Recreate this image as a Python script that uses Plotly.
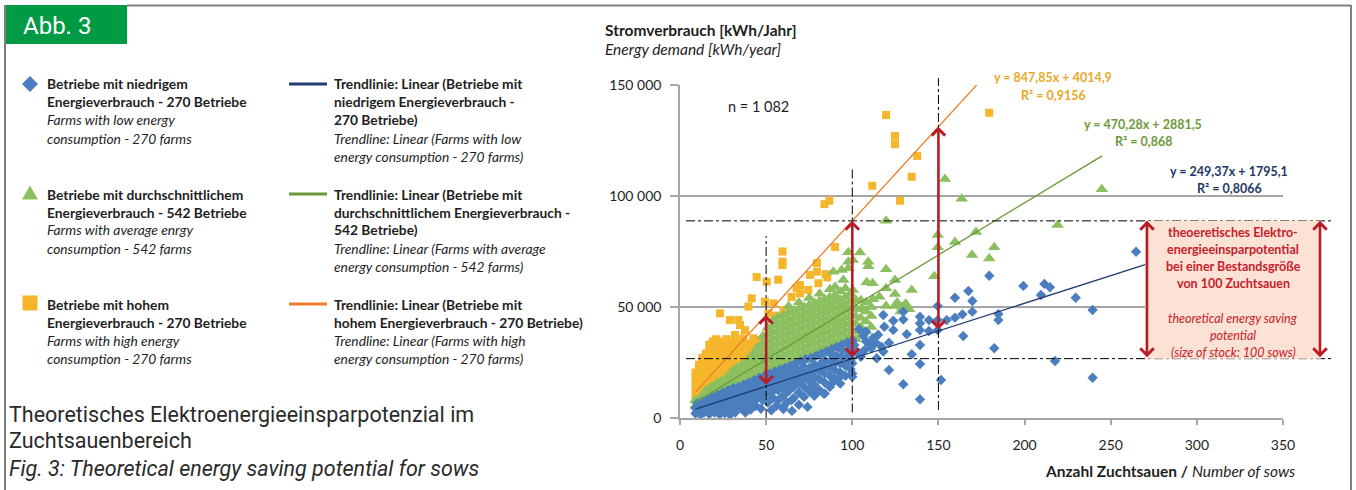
import plotly.graph_objects as go

# ---------------- data ----------------
# (number of sows, energy demand kWh/year)
LOW_FARMS = [
    (9, 2000), (9, 4500), (10, 3200), (10, 6500), (12, 1500), (12, 3500), (12, 5500), (13, 7500),
    (14, 2600), (15, 4500), (15, 6500), (16, 8500), (17, 1800), (18, 3500), (18, 5500), (18, 7500),
    (19, 9500), (20, 2500), (21, 5000), (21, 7000), (21, 8800), (22, 10500), (23, 1600), (24, 3000),
    (24, 5500), (24, 7800), (24, 9800), (25, 11500), (26, 2200), (27, 4500), (27, 6500), (27, 8800),
    (27, 10800), (28, 12500), (29, 1500), (30, 3500), (30, 6000), (30, 8000), (30, 10000), (30, 12000),
    (31, 13500), (32, 2500), (33, 5000), (33, 7500), (33, 9500), (33, 11500), (34, 14000), (36, 4000),
    (36, 6500), (36, 8500), (36, 10500), (36, 12500), (37, 15000), (38, 2500), (39, 6000), (39, 9000),
    (39, 11500), (39, 13500), (40, 16000), (41, 3800), (42, 8000), (42, 10500), (42, 12500), (42, 14500),
    (43, 17000), (44, 5500), (45, 9000), (45, 11500), (45, 13500), (45, 15500), (46, 18000), (47, 4200),
    (48, 8000), (48, 10500), (48, 12500), (48, 14500), (48, 16500), (49, 19000), (51, 7000), (51, 11000),
    (51, 13500), (51, 15500), (51, 17500), (52, 20000), (53, 3500), (54, 9000), (54, 12000), (54, 14500),
    (54, 16500), (54, 18500), (55, 21000), (56, 5500), (57, 8000), (57, 12500), (57, 15500), (57, 17500),
    (57, 19500), (58, 21800), (60, 4000), (60, 10000), (60, 13500), (60, 16000), (60, 18500), (60, 20500),
    (61, 22500), (62, 7000), (63, 12000), (63, 15500), (63, 18000), (63, 20500), (64, 23500), (65, 3200),
    (66, 9000), (66, 14000), (66, 17000), (66, 19500), (66, 22000), (67, 24500), (69, 6000), (69, 11500),
    (69, 16000), (69, 19000), (69, 21500), (70, 25500), (72, 9500), (72, 14000), (72, 18000), (72, 20500),
    (72, 23000), (73, 26500), (74, 5000), (75, 12000), (75, 16500), (75, 19500), (75, 22500), (76, 27000),
    (78, 10000), (78, 15000), (78, 18500), (78, 21500), (78, 24000), (79, 28000), (81, 12500), (81, 17500),
    (81, 21000), (81, 24000), (82, 29000), (84, 11000), (84, 16000), (84, 20000), (84, 23000), (84, 26000),
    (85, 30000), (87, 14000), (87, 19000), (87, 22500), (87, 25500), (88, 28500), (88, 31000), (90, 17500),
    (90, 21500), (90, 25000), (91, 28000), (91, 32000), (93, 15500), (93, 20500), (93, 24500), (94, 27500),
    (94, 30500), (94, 33000), (96, 19000), (96, 23500), (97, 27000), (97, 30000), (97, 34000), (99, 22000),
    (99, 26000), (100, 29000), (100, 32000), (100, 35000),
    (264.7, 74900), (179.5, 64100), (199.3, 59500), (211.5, 60400), (214.7, 58900), (209.5, 55400),
    (229.7, 54200), (239.5, 48650), (217.7, 25700), (239.5, 18150), (182.4, 31400), (184.8, 46800),
    (184.8, 44100), (167.4, 57200), (169.7, 52700), (169.7, 47900), (164.4, 36900), (159.6, 54200),
    (163.9, 46700), (159.6, 45200), (154.8, 44100), (149.6, 50450), (149.6, 44100), (149.6, 39600),
    (151.5, 17100), (144.5, 44100), (144.5, 39200), (139.3, 45600), (139.3, 42650), (139.3, 39600),
    (139.3, 32900), (139.3, 24300), (139.3, 8400), (134.5, 28700), (129.6, 47900), (129.6, 44400),
    (131.6, 37700), (129.6, 15200), (123.8, 43800), (123.8, 39600), (121.3, 33900), (121.3, 21600),
    (118.6, 41100), (117, 32100), (118, 29900), (114.2, 26900), (118, 46400), (108, 34500), (110, 33000),
    (112, 36000), (113.5, 34000), (106.4, 36900), (108, 38900), (105, 27600), (101.2, 32900), (100, 24600),
    (100, 20100), (100, 18600), (103, 29500), (107, 30500), (111, 31500), (115, 37500), (104, 40000),
    (60, 5100), (64.8, 8100), (79.3, 11850), (83.2, 11100), (76.4, 14100), (89, 16350), (92.9, 18600),
]

AVG_FARMS = [
    (9, 5500), (9, 8000), (12, 7000), (12, 9500), (15, 8000), (15, 10500), (15, 12500),
    (18, 9000), (18, 11500), (18, 14000), (21, 10000), (21, 12800), (21, 15500),
    (24, 11000), (24, 13800), (24, 16800), (27, 12000), (27, 15000), (27, 18000),
    (30, 13000), (30, 16000), (30, 19000), (30, 21000), (33, 14000), (33, 17000), (33, 20000), (33, 22500),
    (36, 15000), (36, 18000), (36, 21000), (36, 24000), (39, 16000), (39, 19000), (39, 22000), (39, 25000),
    (42, 17000), (42, 20000), (42, 23000), (42, 26000), (42, 28500),
    (45, 17800), (45, 20800), (45, 23800), (45, 26800), (45, 29800), (45, 32000),
    (48, 18800), (48, 21800), (48, 24800), (48, 27800), (48, 30800), (48, 33800), (48, 36800),
    (51, 19700), (51, 22700), (51, 25700), (51, 28700), (51, 31700), (51, 34700), (51, 37700), (51, 40700),
    (54, 20600), (54, 23600), (54, 26600), (54, 29600), (54, 32600), (54, 35600), (54, 38600), (54, 41600),
    (54, 44000),
    (57, 21500), (57, 24500), (57, 27500), (57, 30500), (57, 33500), (57, 36500), (57, 39500), (57, 42500),
    (57, 45500),
    (60, 22400), (60, 25400), (60, 28400), (60, 31400), (60, 34400), (60, 37400), (60, 40400), (60, 43400),
    (60, 46400),
    (63, 23300), (63, 26300), (63, 29300), (63, 32300), (63, 35300), (63, 38300), (63, 41300), (63, 44300),
    (63, 47300), (63, 50300),
    (66, 24200), (66, 27200), (66, 30200), (66, 33200), (66, 36200), (66, 39200), (66, 42200), (66, 45200),
    (66, 48200),
    (69, 25100), (69, 28100), (69, 31100), (69, 34100), (69, 37100), (69, 40100), (69, 43100), (69, 46100),
    (69, 49100), (69, 52000),
    (72, 26000), (72, 29000), (72, 32000), (72, 35000), (72, 38000), (72, 41000), (72, 44000), (72, 47000),
    (72, 50000),
    (75, 26900), (75, 29900), (75, 32900), (75, 35900), (75, 38900), (75, 41900), (75, 44900), (75, 47900),
    (75, 50900), (75, 54000),
    (78, 27800), (78, 30800), (78, 33800), (78, 36800), (78, 39800), (78, 42800), (78, 45800), (78, 48800),
    (78, 51800),
    (81, 28700), (81, 31700), (81, 34700), (81, 37700), (81, 40700), (81, 43700), (81, 46700), (81, 49700),
    (81, 52700), (81, 56000),
    (84, 29600), (84, 32600), (84, 35600), (84, 38600), (84, 41600), (84, 44600), (84, 47600), (84, 50600),
    (84, 53600),
    (87, 30500), (87, 33500), (87, 36500), (87, 39500), (87, 42500), (87, 45500), (87, 48500), (87, 51500),
    (87, 54500), (87, 58000),
    (90, 31400), (90, 34400), (90, 37400), (90, 40400), (90, 43400), (90, 46400), (90, 49400), (90, 52400),
    (90, 55400), (90, 59000),
    (93, 32300), (93, 35300), (93, 38300), (93, 41300), (93, 44300), (93, 47300), (93, 50300), (93, 53300),
    (93, 57000),
    (96, 33200), (96, 36200), (96, 39200), (96, 42200), (96, 45200), (96, 48200), (96, 51200), (96, 54500),
    (96, 58500),
    (99, 34100), (99, 37100), (99, 40100), (99, 43100), (99, 46100), (99, 49100), (99, 52500), (99, 56000),
    (102, 35500), (102, 39000), (102, 42500), (102, 46000), (102, 49500), (102, 53000),
    (105, 37000), (105, 41000), (105, 45000), (105, 49000), (105, 53000),
    (108, 39000), (108, 43500), (108, 48000), (108, 52000), (111, 41000), (111, 46000), (111, 50000),
    (153.8, 107700), (163.5, 98800), (119.6, 88800), (104.5, 74500), (149.6, 82400), (149.6, 76900),
    (159.6, 79300), (169.5, 73400), (171.8, 83800), (244.8, 103000), (219.2, 86900), (182.4, 76900),
    (179.5, 71900), (147.6, 63900), (134.5, 57650), (124.8, 62200), (119.6, 67000), (119.6, 58400),
    (119.6, 50500), (124.8, 55900), (124.8, 50500), (129, 50000), (131, 51500), (133, 49000),
    (109.3, 70400), (109.3, 68300), (108.4, 61200), (111.8, 60700), (100.3, 71200), (100.3, 57650),
    (97.7, 74700), (97.7, 70400), (97.7, 67400), (89, 65900), (93.8, 66700), (94.8, 62200),
    (115.7, 54600), (106, 49000), (108, 52000), (112, 53500), (102, 53000), (128, 48000), (126, 52000),
]

HIGH_FARMS = [
    (9, 9000), (9, 12000), (9, 15000), (9, 18000), (9, 20500), (11, 10000), (11, 13000), (11, 16000),
    (11, 19000), (11, 22000), (11, 24000), (13, 10500), (13, 13500), (13, 16500), (13, 19500), (13, 22500),
    (13, 25500), (13, 27000), (15, 11500), (15, 14500), (15, 17500), (15, 20500), (15, 23500), (15, 26500),
    (15, 29000), (17, 12500), (17, 15500), (17, 18500), (17, 21500), (17, 24500), (17, 27500), (17, 30500),
    (17, 33000), (19, 13500), (19, 16500), (19, 19500), (19, 22500), (19, 25500), (19, 28500), (19, 31500),
    (19, 34500), (21, 14500), (21, 17500), (21, 20500), (21, 23500), (21, 26500), (21, 29500), (21, 32500),
    (21, 35500), (23, 15500), (23, 18500), (23, 21500), (23, 24500), (23, 27500), (23, 30500), (23, 33500),
    (25, 16500), (25, 19500), (25, 22500), (25, 25500), (25, 28500), (25, 31500), (25, 34500), (27, 17500),
    (27, 20500), (27, 23500), (27, 26500), (27, 29500), (27, 32500), (27, 35500), (29, 18500), (29, 21500),
    (29, 24500), (29, 27500), (29, 30500), (29, 33500), (31, 19500), (31, 22500), (31, 25500), (31, 28500),
    (31, 31500), (31, 34000), (33, 21000), (33, 24000), (33, 27000), (33, 30000), (33, 33000), (35, 22500),
    (35, 25500), (35, 28500), (35, 31500), (35, 34000), (37, 23500), (37, 26500), (37, 29500), (37, 32500),
    (39, 25000), (39, 28000), (39, 31000), (39, 33500), (41, 26000), (41, 29000), (41, 32000), (43, 27500),
    (43, 30500), (43, 33000), (45, 29000), (45, 32000),
    (179.5, 137500), (119.6, 136500), (124.8, 127000), (124.8, 123300), (137.7, 118000), (134.5, 108700),
    (111.6, 104600), (86.7, 97900), (83.8, 96300), (127.7, 97900), (90, 77000), (59.5, 75000),
    (59.5, 70400), (59.5, 68900), (44.5, 63500), (57, 62300), (50.3, 61400), (79.5, 69800), (75.5, 64400),
    (79.5, 65900), (84.5, 64800), (85.5, 63300), (80.3, 60700), (74.5, 57700), (69.7, 59900), (69.7, 56200),
    (67.7, 58400), (64.8, 54500), (41.6, 53900), (39.7, 50200), (49.3, 52400), (51.3, 47150), (55.1, 46100),
    (54.2, 51650), (60, 48650), (23.2, 47150), (29, 44100), (33.9, 44100), (34.8, 41900), (37.7, 39600),
    (31.9, 37400), (36.7, 35900), (42.5, 35900), (45.4, 35100),
]

# linear trendlines (slope, intercept, R^2) as printed in the chart
TREND_LOW = {"slope": 249.37, "intercept": 1795.1, "r2": 0.8066, "x_from": 9, "x_to": 270}
TREND_AVG = {"slope": 470.28, "intercept": 2881.5, "r2": 0.868, "x_from": 9, "x_to": 245}
TREND_HIGH = {"slope": 847.85, "intercept": 4014.9, "r2": 0.9156, "x_from": 9, "x_to": 180}

HERD_SIZES = [50, 100, 150]      # herd sizes where the gap is marked
REFERENCE_HERD = 100             # herd size of the shaded saving box

X_TICKS = [0, 50, 100, 150, 200, 250, 300, 350]
Y_TICKS = [0, 50000, 100000, 150000]
Y_TICK_LABELS = ["0", "50 000", "100 000", "150 000"]
N_LABEL = "n = 1 082"

LEGEND_SERIES_TEXT = [
    ["<b>Betriebe mit niedrigem</b>", "<b>Energieverbrauch - 270 Betriebe</b>",
     "<i>Farms with low energy</i>", "<i>consumption - 270 farms</i>"],
    ["<b>Betriebe mit durchschnittlichem</b>", "<b>Energieverbrauch - 542 Betriebe</b>",
     "<i>Farms with average enrgy</i>", "<i>consumption - 542 farms</i>"],
    ["<b>Betriebe mit hohem</b>", "<b>Energieverbrauch - 270 Betriebe</b>",
     "<i>Farms with high energy</i>", "<i>consumption - 270 farms</i>"],
]
LEGEND_TREND_TEXT = [
    ["<b>Trendlinie: Linear (Betriebe mit</b>", "<b>niedrigem Energieverbrauch -</b>", "<b>270 Betriebe)</b>",
     "<i>Trendline: Linear (Farms with low</i>", "<i>energy consumption - 270 farms)</i>"],
    ["<b>Trendlinie: Linear (Betriebe mit</b>", "<b>durchschnittlichem Energieverbrauch -</b>", "<b>542 Betriebe)</b>",
     "<i>Trendline: Linear (Farms with average</i>", "<i>energy consumption - 542 farms)</i>"],
    ["<b>Trendlinie: Linear (Betriebe mit</b>", "<b>hohem Energieverbrauch - 270 Betriebe)</b>",
     "<i>Trendline: Linear (Farms with high</i>", "<i>energy consumption - 270 farms)</i>"],
]
BOX_TEXT = ["<b>theoeretisches Elektro-</b>", "<b>energieeinsparpotential</b>",
            "<b>bei einer Bestandsgröße</b>", "<b>von 100 Zuchtsauen</b>", "",
            "<i>theoretical energy saving</i>", "<i>potential</i>", "<i>(size of stock: 100 sows)</i>"]
CAPTION = ["Theoretisches Elektroenergieeinsparpotenzial im", "Zuchtsauenbereich",
           "<i>Fig. 3: Theoretical energy saving potential for sows</i>"]
BADGE = "Abb. 3"

# ---------------- style ----------------
W, H = 1356, 490
ML, MR, MT, MB = 680, 73, 85, 72
PW, PH = W - ML - MR, H - MT - MB
XMAX, YMAX = 350, 150000
FONT = "Lato, 'Open Sans', sans-serif"
CAP_FONT = "Roboto, 'Liberation Sans', sans-serif"
C_LOW, C_AVG, C_HIGH = "#4a7ebf", "#8cbf5f", "#f5b62c"
C_LOW_T, C_AVG_T, C_HIGH_T = "#1f3b70", "#6a9a3a", "#f07b28"
C_LOW_EQ, C_AVG_EQ, C_HIGH_EQ = "#1f3864", "#6c9a3a", "#eaa825"
C_RED, C_BOX, C_BOXTXT = "#b71c27", "#fce2d4", "#c8202b"
C_GRID = "#a6a6a6"
TXT = "#1e1e1e"
LEG_SIZE = 13.8


def fx(px):
    return (px - ML) / PW


def fy(py):
    return (H - MB - py) / PH


def trend_y(t, x):
    return t["slope"] * x + t["intercept"]


def de_num(v, nd):
    return f"{v:.{nd}f}".replace(".", ",")


fig = go.Figure()

for pts, sym, size, col in [(HIGH_FARMS, "square", 8, C_HIGH),
                            (AVG_FARMS, "triangle-up", 11, C_AVG),
                            (LOW_FARMS, "diamond", 8, C_LOW)]:
    fig.add_trace(go.Scatter(x=[p[0] for p in pts], y=[p[1] for p in pts], mode="markers",
                             marker=dict(symbol=sym, size=size, color=col, line=dict(width=0)),
                             hoverinfo="skip"))

for t, col in [(TREND_LOW, C_LOW_T), (TREND_AVG, C_AVG_T), (TREND_HIGH, C_HIGH_T)]:
    xs = [t["x_from"], t["x_to"]]
    fig.add_trace(go.Scatter(x=xs, y=[trend_y(t, v) for v in xs], mode="lines",
                             line=dict(color=col, width=1.3), hoverinfo="skip"))

shapes = []
annotations = []

# dash-dot guide lines
lo_ref = trend_y(TREND_LOW, REFERENCE_HERD)
hi_ref = trend_y(TREND_HIGH, REFERENCE_HERD)
dd = dict(color="black", width=1, dash="dashdot")
for yv in (lo_ref, hi_ref):
    shapes.append(dict(type="line", xref="paper", yref="y", x0=fx(686), x1=fx(1334), y0=yv, y1=yv, line=dd))
shapes.append(dict(type="line", xref="x", yref="y", x0=50, x1=50, y0=0, y1=82000, line=dd))
shapes.append(dict(type="line", xref="x", yref="y", x0=100, x1=100, y0=2500, y1=112000, line=dd))
shapes.append(dict(type="line", xref="x", yref="paper", x0=150, x1=150, y0=fy(410), y1=fy(78), line=dd))

# shaded saving box
shapes.append(dict(type="rect", xref="paper", yref="y", x0=fx(1145), x1=fx(1321), y0=lo_ref, y1=hi_ref,
                   fillcolor=C_BOX, line=dict(width=0), layer="above"))

arrow_style = dict(showarrow=True, text="", arrowcolor=C_RED, arrowwidth=2.6, arrowhead=4, startarrowhead=4,
                   arrowsize=1, startarrowsize=1, arrowside="end+start", standoff=0, startstandoff=0)
for hx in HERD_SIZES:
    annotations.append(dict(xref="x", yref="y", axref="x", ayref="y", x=hx, y=trend_y(TREND_HIGH, hx),
                            ax=hx, ay=trend_y(TREND_LOW, hx), **arrow_style))
for bx in (1147, 1320):
    annotations.append(dict(xref="paper", yref="y", axref="pixel", ayref="y", x=fx(bx), y=hi_ref,
                            ax=0, ay=lo_ref, **arrow_style))


def note(text, px, py, size=12.5, color=TXT, xanchor="left", family=FONT):
    annotations.append(dict(text=text, x=fx(px), y=fy(py), xref="paper", yref="paper", showarrow=False,
                            xanchor=xanchor, yanchor="middle", font=dict(family=family, size=size, color=color)))


# box text
for line, py in zip(BOX_TEXT, [232, 249, 266, 283, 300, 318, 335, 352]):
    if line:
        note(line, 1233, py, size=12.5, color=C_BOXTXT, xanchor="center")

# equations
for t, col, cx, py in [(TREND_HIGH, C_HIGH_EQ, 1053, 78), (TREND_AVG, C_AVG_EQ, 1143, 124),
                       (TREND_LOW, C_LOW_EQ, 1229, 171)]:
    note(f"<b>y = {de_num(t['slope'], 2)}x + {de_num(t['intercept'], 1)}</b>", cx, py, 12.5, col, "center")
    r2 = str(t["r2"]).replace(".", ",")
    note(f"<b>R² = {r2}</b>", cx, py + 17, 12.5, col, "center")

note(N_LABEL, 758, 107, 14.5, TXT, "center")

# axis titles
note("<b>Stromverbrauch [kWh/Jahr]</b>", 603, 30, 15.5, TXT)
note("<i>Energy demand [kWh/year]</i>", 603, 49, 15.5, TXT)
note("<b>Anzahl Zuchtsauen /</b> <i>Number of sows</i>", 1297, 471, 15.5, TXT, "right")

# legend
row_tops = [84, 194, 304]
trend_cols = [C_LOW_T, C_AVG_T, C_HIGH_T]
for r, top in enumerate(row_tops):
    for k, line in enumerate(LEGEND_SERIES_TEXT[r]):
        note(line, 45, top + 18 * k, LEG_SIZE, TXT)
    for k, line in enumerate(LEGEND_TREND_TEXT[r]):
        note(line, 332, top + 18 * k, LEG_SIZE, TXT)
    shapes.append(dict(type="line", xref="paper", yref="paper", x0=fx(289), x1=fx(327), y0=fy(top), y1=fy(top),
                       line=dict(color=trend_cols[r], width=3.2)))
cx, cy = 30, row_tops[0]
shapes.append(dict(type="path", xref="paper", yref="paper", fillcolor=C_LOW, line=dict(width=0),
                   path=f"M{fx(cx-8)},{fy(cy)} L{fx(cx)},{fy(cy-8)} L{fx(cx+8)},{fy(cy)} L{fx(cx)},{fy(cy+8)} Z"))
cy = row_tops[1] - 1
shapes.append(dict(type="path", xref="paper", yref="paper", fillcolor=C_AVG, line=dict(width=0),
                   path=f"M{fx(cx-8)},{fy(cy+6.5)} L{fx(cx)},{fy(cy-7.5)} L{fx(cx+8)},{fy(cy+6.5)} Z"))
cy = row_tops[2] - 1
shapes.append(dict(type="rect", xref="paper", yref="paper", fillcolor=C_HIGH, line=dict(width=0),
                   x0=fx(cx-7.5), x1=fx(cx+7.5), y0=fy(cy+7.5), y1=fy(cy-7.5)))

# caption
for line, py in zip(CAPTION, [414, 441, 468]):
    note(line, 7, py, 21.5, "#2a2a2a", family=CAP_FONT)

# badge and frame
shapes.append(dict(type="rect", xref="paper", yref="paper", x0=fx(5), x1=fx(127), y0=fy(44), y1=fy(5),
                   fillcolor="#009a44", line=dict(width=0)))
note(BADGE, 21, 26, 24, "white", family=CAP_FONT)
frame = dict(color="#808080", width=2)
shapes.append(dict(type="line", xref="paper", yref="paper", x0=fx(127), x1=fx(1351), y0=fy(5.5), y1=fy(5.5), line=frame))
shapes.append(dict(type="line", xref="paper", yref="paper", x0=fx(5), x1=fx(5), y0=fy(5), y1=fy(492), line=frame))
shapes.append(dict(type="line", xref="paper", yref="paper", x0=fx(1351), x1=fx(1351), y0=fy(5), y1=fy(492), line=frame))

fig.update_layout(
    width=W, height=H, margin=dict(l=ML, r=MR, t=MT, b=MB, autoexpand=False),
    plot_bgcolor="white", paper_bgcolor="white", showlegend=False,
    shapes=shapes, annotations=annotations,
    font=dict(family=FONT, color=TXT),
    xaxis=dict(range=[0, XMAX], tickvals=X_TICKS, showgrid=False, zeroline=False, showline=True,
               linecolor=C_GRID, linewidth=1.5, ticks="outside", ticklen=5, tickcolor=C_GRID, tickwidth=1.5,
               tickfont=dict(family=FONT, size=14, color=TXT), ticklabelstandoff=8, fixedrange=True),
    yaxis=dict(range=[0, YMAX], tickvals=Y_TICKS, ticktext=Y_TICK_LABELS, showgrid=True, gridcolor=C_GRID,
               gridwidth=1.5, zeroline=False, showline=True, linecolor=C_GRID, linewidth=1.5, ticks="outside",
               ticklen=8, tickcolor=C_GRID, tickwidth=1.5, tickfont=dict(family=FONT, size=14, color=TXT),
               ticklabelstandoff=6, fixedrange=True),
)

fig.write_html("out.html", config={"displayModeBar": False},
               post_script="document.body.style.margin='0';")
